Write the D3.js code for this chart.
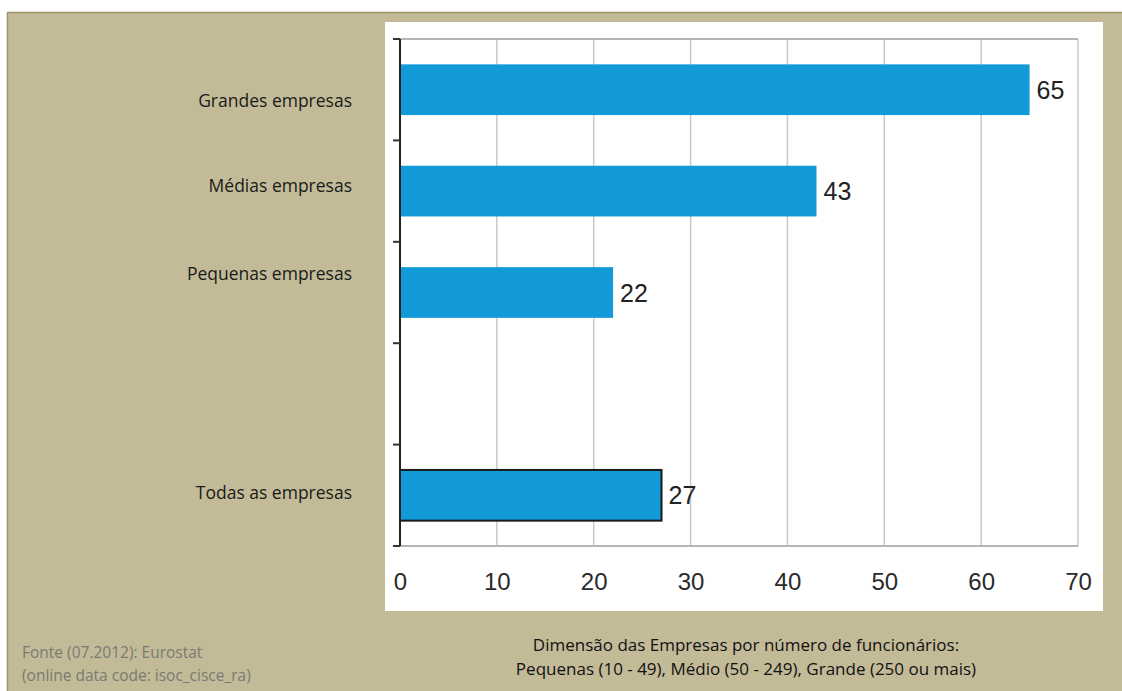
<!DOCTYPE html>
<html>
<head>
<meta charset="utf-8">
<script src="https://cdn.jsdelivr.net/npm/d3@7"></script>
<style>
  html, body { margin: 0; padding: 0; background: #ffffff; }
  svg { display: block; }
</style>
</head>
<body>
<svg id="chart" width="1122" height="691"></svg>
<script>
// Empresas com políticas de segurança TIC, % por dimensão
const categories = ["Grandes empresas", "Médias empresas", "Pequenas empresas", "", "Todas as empresas"];
const values = [65, 43, 22, null, 27];
const xTicks = [0, 10, 20, 30, 40, 50, 60, 70];
const footerNote = ["Dimensão das Empresas por número de funcionários:", "Pequenas (10 - 49), Médio (50 - 249), Grande (250 ou mais)"];
const sourceNote = ["Fonte (07.2012): Eurostat", "(online data code: isoc_cisce_ra)"];

// layout
const W = 1122, H = 691;
const plot = { left: 400, right: 1078, top: 39, bottom: 546 };
const labelBaselines = [107, 192, 280, null, 499];
const sansFont = "'Open Sans', 'Noto Sans', sans-serif";
const arialFont = "'Liberation Sans', Arial, sans-serif";

const svg = d3.select("#chart");

// beige panel with darker top/left edge
svg.append("rect").attr("x", 7).attr("y", 12).attr("width", W - 7).attr("height", H - 12)
  .attr("fill", "#c3ba98");
svg.append("line").attr("x1", 7).attr("x2", W).attr("y1", 12.5).attr("y2", 12.5)
  .attr("stroke", "#9c9468").attr("stroke-width", 1.5);
svg.append("line").attr("x1", 7.5).attr("x2", 7.5).attr("y1", 12).attr("y2", H)
  .attr("stroke", "#9c9468").attr("stroke-width", 1.5);

// white chart card
svg.append("rect").attr("x", 385).attr("y", 22).attr("width", 718).attr("height", 589)
  .attr("fill", "#ffffff");

const x = d3.scaleLinear().domain([0, 70]).range([plot.left, plot.right]);
const y = d3.scaleBand().domain(d3.range(categories.length))
  .range([plot.top, plot.bottom]).paddingInner(0.5).paddingOuter(0.25);

// vertical grid lines
svg.append("g").selectAll("line").data(xTicks.slice(1)).join("line")
  .attr("x1", d => x(d)).attr("x2", d => x(d))
  .attr("y1", plot.top).attr("y2", plot.bottom)
  .attr("stroke", "#c8c8c8").attr("stroke-width", 1.5);

// top and bottom frame lines
svg.append("line").attr("x1", plot.left).attr("x2", plot.right)
  .attr("y1", plot.top).attr("y2", plot.top).attr("stroke", "#b5b5b5").attr("stroke-width", 2);
svg.append("line").attr("x1", plot.left).attr("x2", plot.right)
  .attr("y1", plot.bottom).attr("y2", plot.bottom).attr("stroke", "#b5b5b5").attr("stroke-width", 2);

// bars
const rows = categories.map((c, i) => ({ c, v: values[i], i })).filter(d => d.v !== null);
svg.append("g").selectAll("rect").data(rows).join("rect")
  .attr("x", x(0))
  .attr("y", d => y(d.i))
  .attr("width", d => x(d.v) - x(0))
  .attr("height", y.bandwidth())
  .attr("fill", "#129ad8")
  .attr("stroke", d => d.c === "Todas as empresas" ? "#1a1a1a" : "none")
  .attr("stroke-width", 2);

// value labels
svg.append("g").selectAll("text").data(rows).join("text")
  .attr("x", d => x(d.v) + 7)
  .attr("y", d => y(d.i) + y.bandwidth() / 2 + 9)
  .attr("font-family", arialFont).attr("font-size", 25)
  .attr("fill", "#222").text(d => d.v);

// left axis with ticks at band boundaries
const boundaries = d3.range(categories.length + 1).map(i => plot.top + i * (plot.bottom - plot.top) / categories.length);
svg.append("line").attr("x1", plot.left).attr("x2", plot.left)
  .attr("y1", plot.top).attr("y2", plot.bottom).attr("stroke", "#222").attr("stroke-width", 2);
svg.append("g").selectAll("line").data(boundaries).join("line")
  .attr("x1", plot.left - 7).attr("x2", plot.left)
  .attr("y1", d => d).attr("y2", d => d)
  .attr("stroke", "#333").attr("stroke-width", 2);

// category labels
svg.append("g").selectAll("text").data(categories.map((c, i) => ({ c, yb: labelBaselines[i] })).filter(d => d.c))
  .join("text")
  .attr("x", 352).attr("y", d => d.yb)
  .attr("text-anchor", "end")
  .attr("font-family", sansFont).attr("font-size", 17.5)
  .attr("fill", "#1a1a1a").text(d => d.c);

// x axis labels
const xAxis = d3.axisBottom(x).tickValues(xTicks).tickSize(0).tickPadding(0);
const xg = svg.append("g").attr("transform", `translate(0, 590)`).call(xAxis);
xg.select(".domain").remove();
xg.selectAll("text").attr("font-family", arialFont).attr("font-size", 24)
  .attr("fill", "#2a2a2a").attr("dy", 0).attr("y", 0);

// footer notes
svg.append("g").selectAll("text").data(footerNote).join("text")
  .attr("x", 746).attr("y", (d, i) => 651 + i * 24)
  .attr("text-anchor", "middle")
  .attr("font-family", sansFont).attr("font-size", 17)
  .attr("fill", "#111").text(d => d);

svg.append("g").selectAll("text").data(sourceNote).join("text")
  .attr("x", 22).attr("y", (d, i) => 658 + i * 23)
  .attr("font-family", sansFont).attr("font-size", 15.5)
  .attr("fill", "#7a7a72").text(d => d);
</script>
</body>
</html>
